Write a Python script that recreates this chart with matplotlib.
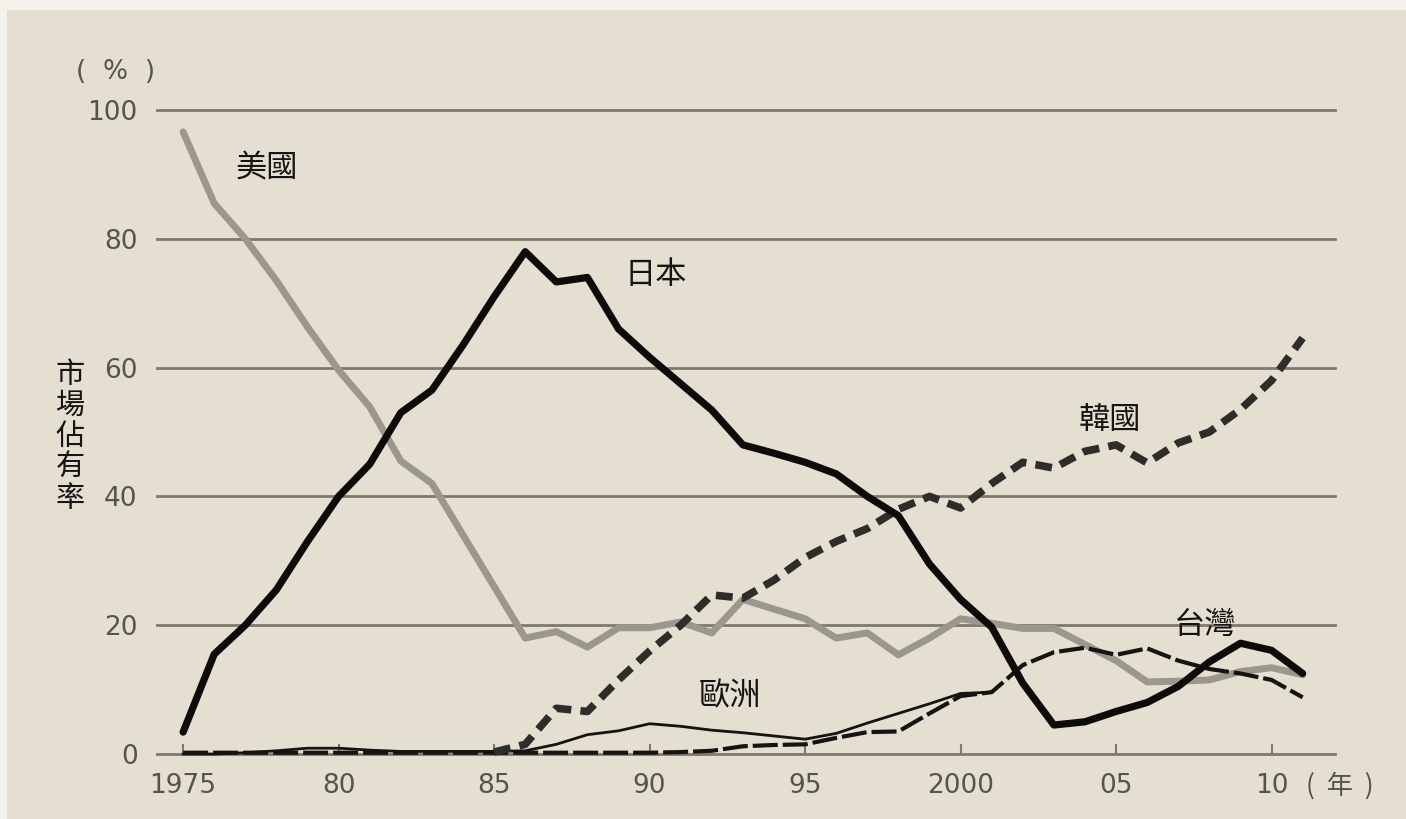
import matplotlib
matplotlib.use("Agg")
import matplotlib.pyplot as plt

plt.rcParams['font.family'] = ['DejaVu Sans', 'Noto Sans CJK TC']

# ---- data: DRAM market share by region (%) ----
years_main = list(range(1975, 2012))

usa = [96.6, 85.5, 80.0, 73.5, 66.3, 59.6, 53.9, 45.5, 42.0, 34.0,
       26.0, 18.0, 19.0, 16.6, 19.6, 19.6, 20.5, 18.8, 24.0, 22.5,
       21.0, 18.0, 18.8, 15.4, 18.0, 21.0, 20.3, 19.5, 19.5, 17.0,
       14.5, 11.2, 11.3, 11.5, 12.8, 13.4, 12.3]

japan = [3.4, 15.5, 20.0, 25.5, 33.0, 40.0, 45.0, 53.0, 56.5, 63.5,
         71.0, 78.0, 73.3, 74.0, 66.0, 61.6, 57.5, 53.4, 48.0, 46.7,
         45.3, 43.5, 40.0, 37.0, 29.5, 24.0, 19.7, 11.0, 4.5, 5.0,
         6.6, 8.0, 10.5, 14.3, 17.2, 16.1, 12.5]

taiwan = [0.2, 0.2, 0.2, 0.2, 0.2, 0.2, 0.2, 0.2, 0.2, 0.2,
          0.2, 0.2, 0.2, 0.2, 0.2, 0.2, 0.3, 0.5, 1.2, 1.4,
          1.5, 2.5, 3.4, 3.5, 6.3, 9.0, 9.6, 13.8, 15.8, 16.5,
          15.4, 16.4, 14.5, 13.2, 12.5, 11.5, 8.8]

years_europe = list(range(1975, 2002))
europe = [0.0, 0.0, 0.2, 0.5, 0.9, 0.9, 0.6, 0.4, 0.4, 0.4,
          0.4, 0.5, 1.5, 3.0, 3.6, 4.7, 4.3, 3.7, 3.3, 2.8,
          2.3, 3.2, 4.8, 6.3, 7.8, 9.4, 9.6]

years_korea = list(range(1985, 2012))
korea = [0.3, 1.5, 7.1, 6.6, 11.5, 16.0, 20.0, 24.7, 24.2, 27.0,
         30.5, 33.0, 35.0, 38.0, 40.0, 38.2, 42.0, 45.3, 44.4, 47.0,
         48.0, 45.2, 48.3, 50.0, 53.5, 58.0, 64.6]

xticks = [1975, 1980, 1985, 1990, 1995, 2000, 2005, 2010]
xtick_labels = ["1975", "80", "85", "90", "95", "2000", "05", "10"]
yticks = [0, 20, 40, 60, 80, 100]
ytick_labels = ["0", "20", "40", "60", "80", "100"]

series_labels = {"美國": (1977.7, 91.0), "日本": (1990.2, 74.4),
                 "韓國": (2004.8, 51.9), "歐洲": (1992.6, 8.9),
                 "台灣": (2007.85, 20.0)}

# ---- style ----
BG = "#e4dfd1"
GRID = "#7f796c"
TICK_TXT = "#56544f"
CJK = ["Noto Sans CJK TC", "DejaVu Sans"]

fig = plt.figure(figsize=(14.06, 8.19), dpi=100)
fig.patch.set_facecolor("#f4f2ec")

# beige paper panel behind everything
bg = fig.add_axes([7 / 1406, 0, 1, 1 - 10 / 819], zorder=-1)
bg.set_facecolor(BG)
bg.set_xticks([])
bg.set_yticks([])
for s in bg.spines.values():
    s.set_visible(False)

ax = fig.add_axes([157 / 1406, 1 - 754 / 819, (1335 - 157) / 1406, (754 - 110) / 819])
ax.set_facecolor("none")
ax.set_xlim(1974.16, 2012.04)
ax.set_ylim(0, 100)
for s in ax.spines.values():
    s.set_visible(False)

for y in yticks:
    ax.axhline(y, color=GRID, lw=2.0, clip_on=False, zorder=1)

ax.set_yticks(yticks)
ax.set_yticklabels(ytick_labels)
ax.set_xticks(xticks)
ax.set_xticklabels(xtick_labels)
ax.tick_params(axis="y", length=0, pad=14, labelsize=19, labelcolor=TICK_TXT)
ax.tick_params(axis="x", direction="in", length=7, width=1.5, color=GRID,
               pad=14, labelsize=19, labelcolor=TICK_TXT)

ax.plot(years_main, usa, color="#9b978d", lw=5.0, solid_capstyle="round",
        solid_joinstyle="round", clip_on=False, zorder=3)
ax.plot(years_europe, europe, color="#151412", lw=2.0, clip_on=False, zorder=4)
ax.plot(years_main, taiwan, color="#151412", lw=3.0, dashes=(6, 1.2),
        clip_on=False, zorder=4)
ax.plot(years_korea, korea, color="#2f2d29", lw=5.5, dashes=(2.2, 1.2),
        clip_on=False, zorder=4)
ax.plot(years_main, japan, color="#0d0c0b", lw=5.2, solid_capstyle="round",
        solid_joinstyle="round", clip_on=False, zorder=5)

for name, (x, y) in series_labels.items():
    ax.text(x, y, name, fontsize=22.5, color="#161514", ha="center", va="center",
            family=CJK, zorder=6)

fig.text(116 / 1406, 1 - 72 / 819, "(  %  )", fontsize=19, color=TICK_TXT,
         ha="center", va="center")
fig.text(1340 / 1406, 1 - 786 / 819, "(  年  )", fontsize=19, color=TICK_TXT,
         ha="center", va="center", family=CJK)
fig.text(70 / 1406, 1 - 437 / 819, "市\n場\n佔\n有\n率", fontsize=21,
         color="#161514", ha="center", va="center", linespacing=1.05,
         family=CJK)

fig.savefig("out.png", dpi=100, facecolor=fig.get_facecolor())
